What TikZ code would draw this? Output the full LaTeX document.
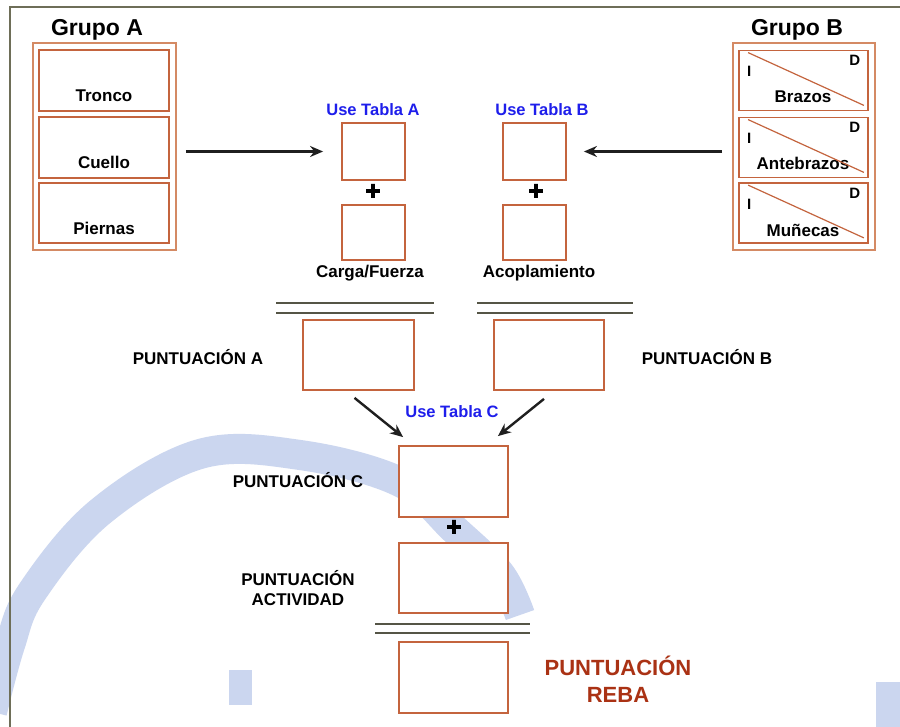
\documentclass[tikz,border=0pt]{standalone}
\usepackage{fontspec}
\setmainfont{Liberation Sans}
\newfontfamily\heavyfont[FakeBold=3]{Liberation Sans Bold}
\usetikzlibrary{arrows.meta,calc}
\definecolor{boxc}{RGB}{196,100,62}
\definecolor{outc}{RGB}{212,138,100}
\definecolor{linec}{RGB}{85,85,70}
\definecolor{framec}{RGB}{110,110,88}
\definecolor{wm}{RGB}{203,214,239}
\definecolor{tblue}{RGB}{30,30,235}
\definecolor{rebac}{RGB}{170,50,20}
\begin{document}
\begin{tikzpicture}[x=1pt,y=-1pt,
  box/.style={draw=boxc,line width=1.8pt,fill=white,inner sep=0pt},
  outbox/.style={draw=outc,line width=1.8pt,fill=white,inner sep=0pt},
  lab/.style={font=\fontsize{17}{19}\selectfont\bfseries,inner sep=0pt,align=center},
  title/.style={font=\fontsize{23}{25}\selectfont\bfseries,inner sep=0pt},
  bluelab/.style={font=\fontsize{16.5}{18}\selectfont\bfseries,text=tblue,inner sep=0pt},
  plus/.style={font=\fontsize{26}{26}\heavyfont,inner sep=0pt},
  dbl/.style={draw=linec,line width=2.8pt},
  arr/.style={draw=black!88,line width=2.4pt,-{Stealth[length=13pt,width=11pt]}},
  diag/.style={draw=boxc,line width=1.2pt},
  side/.style={font=\fontsize{15}{16}\selectfont\bfseries,inner sep=0pt}]
\useasboundingbox (0,0) rectangle (900,727);
\fill[white] (0,0) rectangle (900,727);
% watermark
\draw[wm,line width=30pt] plot[smooth,tension=0.6] coordinates {(-8,712) (10,645) (32,592) (100,512) (200,454) (300,455) (400,482) (455,530) (500,574) (520,615)};
\fill[wm] (229,670) rectangle (252,705);
\fill[wm] (876,682) rectangle (900,727);
% frame
\draw[framec,line width=2.5pt] (10,727) -- (10,7) -- (900,7);

% Grupo A
\node[title] (tA) at (97,30) {Grupo A};
\node[outbox,minimum width=143,minimum height=207] (gA) at (104.5,146.5) {};
\node[box,minimum width=130,minimum height=61] (tr) at (104,80.5) {};
\node[box,minimum width=130,minimum height=61] (cu) at (104,147.5) {};
\node[box,minimum width=130,minimum height=60] (pi) at (104,213) {};
\node[lab] (ltr) at (104,96) {Tronco};
\node[lab] (lcu) at (104,162) {Cuello};
\node[lab] (lpi) at (104,228) {Piernas};

% Grupo B
\node[title] (tB) at (797,30) {Grupo B};
\node[outbox,minimum width=142,minimum height=207] (gB) at (804,146.5) {};
\foreach \n/\y/\t/\ly in {br/80.5/Brazos/97, an/147.5/Antebrazos/163, mu/213/Muñecas/230}{
  \node[box,minimum width=129,minimum height=60] (\n) at (803.5,\y) {};
  \node[lab] (l\n) at (803,\ly) {\t};
  \draw[diag] ($(\n.north west)+(10,3)$) -- ($(\n.south east)+(-5,-6)$);
  \node[side] (i\n) at ($(\n.north west)+(11,22)$) {I};
  \node[side] (d\n) at ($(\n.north east)+(-14,11)$) {D};
}

% Tablas A y B
\node[bluelab] (uA) at (373,110) {Use Tabla A};
\node[box,minimum width=63,minimum height=57] (TA1) at (373.5,151.5) {};
\node[plus] (pA) at (373,192) {+};
\node[box,minimum width=63,minimum height=55] (TA2) at (373.5,232.5) {};
\node[lab] (cf) at (370,273) {Carga/Fuerza};

\node[bluelab] (uB) at (542,110) {Use Tabla B};
\node[box,minimum width=63,minimum height=57] (TB1) at (534.5,151.5) {};
\node[plus] (pB) at (536,192) {+};
\node[box,minimum width=63,minimum height=55] (TB2) at (534.5,232.5) {};
\node[lab] (ac) at (539,273) {Acoplamiento};

\draw[arr] ($(gA.east |- TA1.west)+(9,0)$) -- ($(TA1.west)+(-18,0)$);
\draw[arr] ($(gB.west |- TB1.east)+(-10,0)$) -- ($(TB1.east)+(17,0)$);

% double lines
\coordinate (l1a) at (276,303); \coordinate (l1b) at (434,303);
\coordinate (l2a) at (276,313); \coordinate (l2b) at (434,313);
\draw[dbl] (l1a) -- (l1b); \draw[dbl] (l2a) -- (l2b);
\coordinate (r1a) at (477,303); \coordinate (r1b) at (633,303);
\coordinate (r2a) at (477,313); \coordinate (r2b) at (633,313);
\draw[dbl] (r1a) -- (r1b); \draw[dbl] (r2a) -- (r2b);

% Puntuaciones A y B
\node[box,minimum width=111,minimum height=70] (PA) at (358.5,355) {};
\node[box,minimum width=110,minimum height=70] (PB) at (549,355) {};
\node[lab] (lPA) at (198,357) {PUNTUACIÓN A};
\node[lab] (lPB) at (707,357) {PUNTUACIÓN B};

\node[bluelab] (uC) at (452,412) {Use Tabla C};
\node[box,minimum width=109,minimum height=71] (PC) at (453.5,481.5) {};
\draw[arr] ($(PA.south)+(-4,7)$) -- ($(PC.north west)+(5,-8)$);
\draw[arr] ($(PB.south)+(-5,8)$) -- ($(PC.north east)+(-11,-9)$);
\node[lab] (lPC) at (298,480) {PUNTUACIÓN C};
\node[plus] (pC) at (454,528) {+};
\node[box,minimum width=109,minimum height=70] (PAct) at (453.5,578) {};
\node[lab] (lPAct) at (298,588) {PUNTUACIÓN\\[1pt]ACTIVIDAD};

\coordinate (b1a) at (375,624); \coordinate (b1b) at (530,624);
\coordinate (b2a) at (375,633); \coordinate (b2b) at (530,633);
\draw[dbl] (b1a) -- (b1b); \draw[dbl] (b2a) -- (b2b);

\node[box,minimum width=109,minimum height=71] (PR) at (453.5,677.5) {};
\node[font=\fontsize{22}{27}\selectfont\bfseries,text=rebac,inner sep=0pt,align=center] (lPR) at (618,679) {PUNTUACIÓN\\REBA};
\end{tikzpicture}
\end{document}
